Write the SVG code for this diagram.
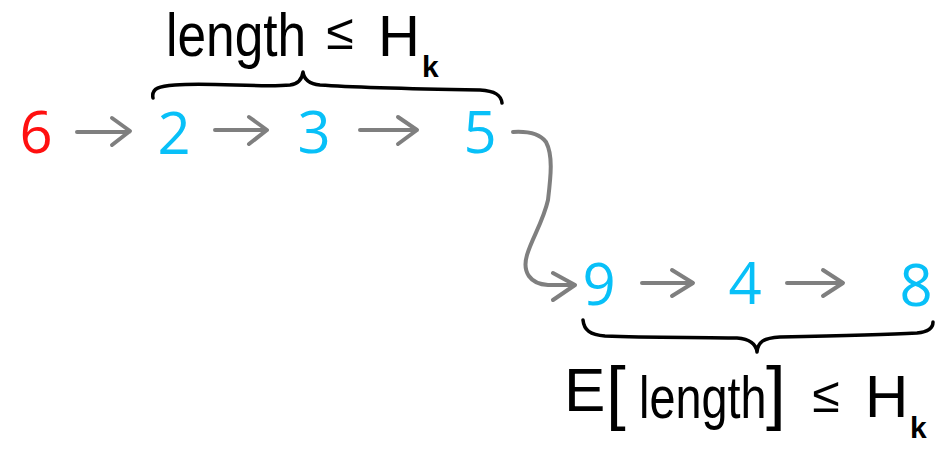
<svg xmlns="http://www.w3.org/2000/svg" width="948" height="454" viewBox="0 0 948 454">
<style>
.d{font-family:"Open Sans","Liberation Sans",sans-serif;font-size:58px;text-anchor:middle}
.r{fill:#ff1010}.c{fill:#08c0f8}
.t{font-family:"Liberation Sans","Open Sans",sans-serif;fill:#000}
.a{fill:none;stroke:#7f7f7f;stroke-width:4;stroke-linecap:round;stroke-linejoin:round}
.b{fill:none;stroke:#000;stroke-width:3.5;stroke-linecap:round;stroke-linejoin:round}
</style>
<rect width="948" height="454" fill="#fff"/>
<g id="n6"><text class="d r" x="36" y="153">6</text></g>
<g id="n2"><text class="d c" x="174" y="154">2</text></g>
<g id="n3"><text class="d c" x="314" y="153">3</text></g>
<g id="n5"><text class="d c" x="480" y="153">5</text></g>
<g id="n9"><text class="d c" x="599" y="305">9</text></g>
<g id="n4"><text class="d c" x="745" y="304">4</text></g>
<g id="n8"><text class="d c" x="916" y="306">8</text></g>
<g id="connectors">
<path class="a" d="M77 132 H129 M112 118 L130 131 L112 145"/>
<path class="a" d="M215 130 H266 M249 117 L267 130 L249 144"/>
<path class="a" d="M360 130 H416 M398 117 L417 130 L398 144"/>
<path class="a" d="M513 132 C530 131 540 134 546 142 C553 155 551 175 548 200 C543 222 532 238 527 255 C522 272 530 284 548 285 L574 285 M553 273 L575 285 L553 300"/>
<path class="a" d="M642 283 H692 M672 270 L693 283 L672 296"/>
<path class="a" d="M787 283 H842 M823 270 L843 283 L823 296"/>
</g>
<g id="top-label">
<path class="b" d="M153 98 C151 88 160 86 175 85 C210 82 260 88 290 85 C298 84 302 80 303 72 C304 80 310 84 320 85 C360 88 420 89 480 90 C495 91 501 95 502 103"/>
<text class="t" transform="translate(166 56) scale(0.83 1)" x="0" y="0" font-size="62">length</text>
<text class="t" x="340" y="49" font-size="50" text-anchor="middle">≤</text>
<text class="t" x="378" y="56" font-size="58">H</text>
<text class="t" x="422" y="77" font-size="30" font-weight="bold">k</text>
</g>
<g id="bottom-label">
<path class="b" d="M583 320 C584 330 590 335 605 336 C650 338 700 337 737 338 C750 339 756 344 757 352 C758 342 763 338 780 337 C830 336 880 335 917 333 C928 332 933 328 933 322"/>
<text class="t" x="564" y="411" font-size="62">E</text>
<text class="t" x="606" y="416" font-size="71">[</text>
<text class="t" transform="translate(639 418) scale(0.78 1)" x="0" y="0" font-size="60">length</text>
<text class="t" x="766" y="416" font-size="71">]</text>
<text class="t" x="826" y="412" font-size="50" text-anchor="middle">≤</text>
<text class="t" x="865" y="417" font-size="60">H</text>
<text class="t" x="910" y="438" font-size="30" font-weight="bold">k</text>
</g>
</svg>
